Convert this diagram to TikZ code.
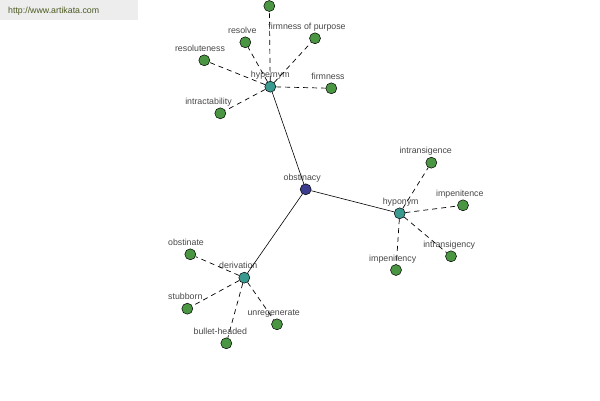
\documentclass[tikz,border=0pt]{standalone}
\usepackage{fontspec}
\setmainfont{Liberation Sans}
\usetikzlibrary{backgrounds}
\definecolor{leafgreen}{HTML}{4A9642}
\definecolor{hubteal}{HTML}{3A9A90}
\definecolor{rootblue}{HTML}{3B3B8F}
\definecolor{urlgreen}{HTML}{4B5A22}
\tikzset{
  dot/.style={circle, draw=black, line width=0.5pt, minimum size=11pt, inner sep=0pt},
  leaf/.style={dot, fill=leafgreen},
  hub/.style={dot, fill=hubteal},
  lbl/.style={font=\fontsize{8.8}{10}\selectfont, text=black!72, inner sep=0pt, text depth=0pt, label distance=3pt},
  rel/.style={dash pattern=on 5pt off 4pt, line width=0.7pt},
  tie/.style={line width=0.6pt}
}

\begin{document}
\begin{tikzpicture}[x=1pt, y=-1pt]
\useasboundingbox (0,0) rectangle (600,400);
\fill[black!7] (0,0) rectangle (138,20);
\node[anchor=west, text=urlgreen, font=\fontsize{8.8}{10}\selectfont, inner sep=0pt] (url) at (8,11) {http://www.artikata.com};

\node[dot, fill=rootblue, label={[lbl, xshift=-3.5pt]above:obstinacy}] (obst) at (305.7,189.3) {};
\node[hub, label={[lbl]above:hypernym}] (hyper) at (270.3,86.7) {};
\node[hub, label={[lbl, xshift=1pt]above:hyponym}] (hypo) at (399.7,213.3) {};
\node[hub, label={[lbl, xshift=-6pt]above:derivation}] (deriv) at (244.3,277.7) {};

\draw[tie] (obst) -- (hyper);
\draw[tie] (obst) -- (hypo);
\draw[tie] (obst) -- (deriv);

\node[leaf] (top) at (269.3,6) {};
\draw[rel] (hyper) -- (top);
\foreach \n/\x/\y/\d/\t in {resolve/245.3/42.3/-3/resolve, purpose/315/38.3/-8/firmness of purpose,
  resolut/204.3/60.3/-4.3/resoluteness, firm/331.3/88.3/-3.3/firmness, intract/220.3/113.3/-11.8/intractability} {
 \node[leaf, label={[lbl, xshift=\d pt]above:\t}] (\n) at (\x,\y) {};
 \draw[rel] (hyper) -- (\n);
}

\foreach \n/\x/\y/\d/\t in {intrans/431.3/162.7/-5.6/intransigence, impence/463/205.3/-3.2/impenitence,
  intransy/451/256.3/-1.8/intransigency, impency/396/270/-3.3/impenitency} {
 \node[leaf, label={[lbl, xshift=\d pt]above:\t}] (\n) at (\x,\y) {};
 \draw[rel] (hypo) -- (\n);
}

\foreach \n/\x/\y/\d/\t in {obstin/190.3/254.3/-4.3/obstinate, stub/187.3/308.7/-2/stubborn,
  bullet/226.3/343.3/-6/bullet-headed, unreg/277/324.3/-3.3/unregenerate} {
 \node[leaf, label={[lbl, xshift=\d pt]above:\t}] (\n) at (\x,\y) {};
 \draw[rel] (deriv) -- (\n);
}
\end{tikzpicture}
\end{document}
